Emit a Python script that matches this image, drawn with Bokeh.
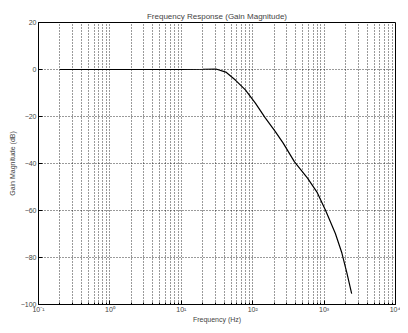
from bokeh.plotting import figure
from bokeh.models import FixedTicker, Range1d, ColumnDataSource
from bokeh.embed import file_html
from bokeh.resources import INLINE

# Data
freq_hz = [0.2, 1, 10, 20, 30.6, 42, 57.7, 79, 109, 149, 204, 266, 385, 586, 803, 1050, 1438, 1775, 2080, 2432]
gain_db = [0.0, 0.0, 0.0, 0.1, 0.2, -1.1, -4.6, -8.7, -14.3, -20.5, -26.1, -31.2, -39.3, -46.2, -52.4, -60.0, -69.8, -78.1, -86.4, -95.4]

x_ticks = [0.1, 1, 10, 100, 1000, 10000]
x_tick_labels = ["10⁻¹", "10⁰", "10¹", "10²", "10³", "10⁴"]
x_minor = [m * d for d in [0.1, 1, 10, 100, 1000] for m in range(2, 10)]
y_ticks = [-100, -80, -60, -40, -20, 0, 20]

FONT = "Liberation Sans"

p = figure(width=400, height=325, x_axis_type="log",
           x_range=Range1d(0.1, 10000), y_range=Range1d(-100, 20),
           output_backend="svg", toolbar_location=None,
           title="Frequency Response (Gain Magnitude)",
           min_border_left=38, min_border_right=5, min_border_top=22, min_border_bottom=18)

p.title.text_font = FONT
p.title.text_font_size = "8px"
p.title.text_font_style = "normal"
p.title.align = "center"
p.title.standoff = 4

p.background_fill_color = "white"
p.border_fill_color = "white"
p.outline_line_color = "black"
p.outline_line_width = 1

xt = FixedTicker(ticks=x_ticks, minor_ticks=x_minor)
p.xaxis.ticker = xt
p.xaxis.major_label_overrides = dict(zip(x_ticks, x_tick_labels))
p.yaxis.ticker = FixedTicker(ticks=y_ticks, minor_ticks=[])

for ax in (p.xaxis[0], p.yaxis[0]):
    ax.major_tick_in = 4
    ax.major_tick_out = 0
    ax.minor_tick_in = 2
    ax.minor_tick_out = 0
    ax.major_label_text_font = FONT
    ax.major_label_text_font_size = "7px"
    ax.axis_label_text_font = FONT
    ax.axis_label_text_font_size = "7px"
    ax.axis_label_text_font_style = "normal"
    ax.major_label_standoff = 2
    ax.axis_label_standoff = 2
    ax.axis_line_color = "black"
    ax.major_tick_line_color = "black"
    ax.minor_tick_line_color = "black"

p.xaxis.major_label_standoff = 1
p.xaxis.axis_label_standoff = 0
p.yaxis.minor_tick_in = 0
p.xaxis.axis_label = "Frequency (Hz)"
p.yaxis.axis_label = "Gain Magnitude (dB)"

p.xgrid.grid_line_color = "black"
p.xgrid.grid_line_dash = "1 2"
p.xgrid.grid_line_width = 0.8
p.xgrid.minor_grid_line_color = "black"
p.xgrid.minor_grid_line_dash = "1 2"
p.xgrid.minor_grid_line_width = 0.8
p.ygrid.grid_line_color = "black"
p.ygrid.grid_line_dash = "1 2"
p.ygrid.grid_line_width = 0.8

src = ColumnDataSource(dict(f=freq_hz, g=gain_db))
p.line("f", "g", source=src, line_color="black", line_width=1.2)

open("out.html", "w").write(file_html(p, INLINE))
